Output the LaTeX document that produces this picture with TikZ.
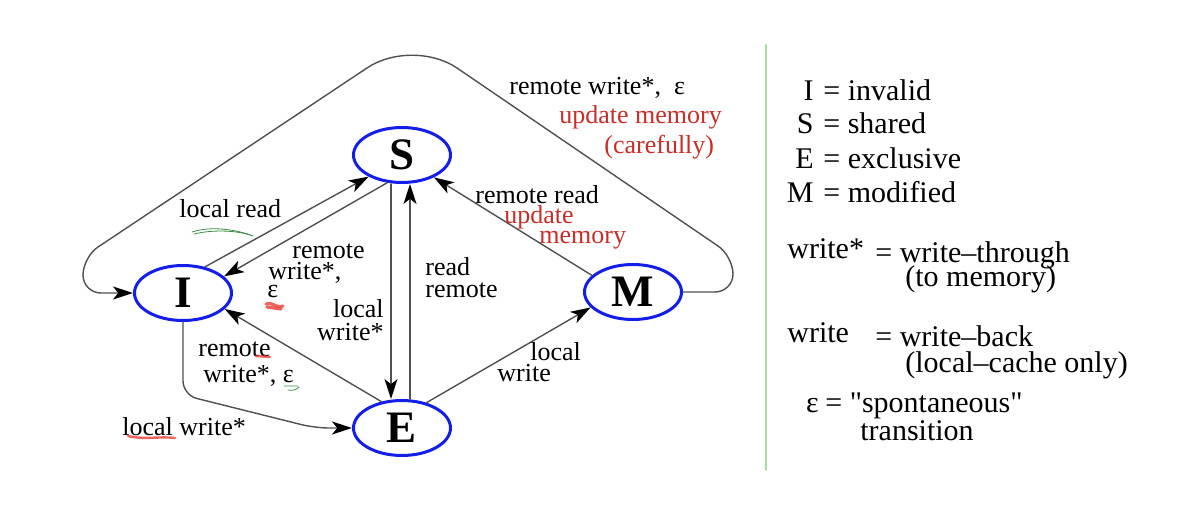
\documentclass[tikz,border=0pt]{standalone}
\usepackage{fontspec}
\setmainfont{Liberation Serif}
\usetikzlibrary{shapes.geometric,arrows.meta}
\definecolor{stateblue}{RGB}{20,30,235}
\definecolor{edgegray}{RGB}{80,80,80}
\definecolor{memred}{RGB}{200,45,40}
\definecolor{sepgreen}{RGB}{170,220,160}
\definecolor{inkgreen}{RGB}{60,140,70}
\definecolor{inkred}{RGB}{235,60,50}
\begin{document}
\begin{tikzpicture}[x=0.5pt,y=-0.5pt,>={Stealth[length=10pt,width=6.5pt,inset=2.6pt,color=black]},
    line join=round,line cap=round,
    state/.style={ellipse,draw=stateblue,line width=1.5pt,minimum width=48.5pt,minimum height=27.5pt,
      inner sep=0pt,font=\fontsize{22.5}{24}\selectfont\bfseries},
    trans/.style={->,draw=edgegray,line width=0.7pt},
    lbl/.style={anchor=base west,inner sep=0pt,font=\fontsize{13}{15}\selectfont},
    memo/.style={lbl,text=memred},
    key/.style={anchor=base west,inner sep=0pt,font=\fontsize{15}{17}\selectfont},
    redink/.style={inkred,line width=1.6pt,opacity=0.8},
    greenink/.style={inkgreen,line width=0.4pt}]
  \useasboundingbox (0,0) rectangle (1190,524);
  % states
  \node[state] (S) at (402,155) {S};
  \node[state] (I) at (183,293) {I};
  \node[state] (E) at (402,428) {E};
  \node[state] (M) at (633,292) {M};
  % transitions
  \draw[trans] (I.50) -- (S.213);
  \draw[trans] (S.242) -- (I.22);
  \draw[trans] ([xshift=-5.5pt]S.south) -- ([xshift=-5.5pt]E.north);
  \draw[trans] ([xshift=4pt]E.north) -- ([xshift=4pt]S.south);
  \draw[trans] (M.158) -- (S.325);
  \draw[trans] (E.128) -- (I.339);
  \draw[trans] (E.46) -- (M.200);
  \draw[trans,rounded corners=7pt] (I.south) -- (183,395) -- (315,428) -- (E.west);
  \draw[trans] (M.east) -- (715,292) .. controls (725,292) and (733,284) .. (733,274)
    .. controls (733,264) and (726,251) .. (718,246) -- (457,68)
    .. controls (432,51) and (392,51) .. (367,68) -- (98,247)
    .. controls (90,252) and (83,265) .. (83,275)
    .. controls (83,285) and (91,293) .. (101,293) -- (I.west);
  % labels
  \node[lbl] (lLoopA) at (509,95) {remote write*,\ \ ε};
  \node[memo] (lLoopB) at (559,124) {update memory};
  \node[memo] (lLoopC) at (604,154) {(carefully)};
  \node[lbl] (lIS) at (179,218) {local read};
  \node[lbl] (lSIa) at (292,258) {remote};
  \node[lbl] (lSIb) at (268,279) {write*,};
  \node[lbl] (lSIc) at (267,298) {ε};
  \node[lbl,anchor=base east] (lSEa) at (384,317) {local};
  \node[lbl,anchor=base east] (lSEb) at (384,340) {write*};
  \node[lbl] (lESa) at (425,276) {read};
  \node[lbl] (lESb) at (425,298) {remote};
  \node[lbl] (lMSa) at (475,204) {remote read};
  \node[memo] (lMSb) at (504,224) {update};
  \node[memo] (lMSc) at (539,243) {memory};
  \node[lbl] (lEMa) at (530,360) {local};
  \node[lbl] (lEMb) at (497,381) {write};
  \node[lbl] (lEIa) at (198,357) {remote};
  \node[lbl] (lEIb) at (203,382) {write*, ε};
  \node[lbl] (lIE) at (122,435) {local write*};
  % pen marks
  \draw[greenink] (192,232) .. controls (210,226) and (235,229) .. (253,236);
  \draw[greenink] (194,234) .. controls (215,229) and (238,231) .. (250,235);
  \draw[redink] (266,304) .. controls (272,301) and (276,309) .. (283,306);
  \draw[redink] (267,307) -- (281,309);
  \draw[redink,line width=1.2pt] (256,356) -- (270,357);
  \draw[greenink] (284,386) -- (298,386) (288,390) .. controls (292,391) and (296,390) .. (299,387);
  \draw[redink,line width=1.2pt] (128,436) .. controls (145,440) and (160,436) .. (175,438);
  % legend
  \draw[sepgreen,line width=1pt] (766,45) -- (766,470);
  \foreach \s/\w/\y in {I/invalid/101,S/shared/134,E/exclusive/169,M/modified/203}{
    \node[key,anchor=base east] (key\s) at (814,\y) {\s};
    \node[key] (val\s) at (823,\y) {= \w};}
  \node[key] (kWT) at (787,258) {write*};
  \node[key] (vWT) at (875,263) {= write–through};
  \node[key] (vWTb) at (905,286) {(to memory)};
  \node[key] (kWB) at (787,343) {write};
  \node[key] (vWB) at (875,346) {= write–back};
  \node[key] (vWBb) at (905,372) {(local–cache only)};
  \node[key,anchor=base east] (kEps) at (819,412) {ε};
  \node[key] (vEps) at (825,412) {= \textquotedbl spontaneous\textquotedbl};
  \node[key] (vEpsb) at (860,440) {transition};
\end{tikzpicture}
\end{document}
